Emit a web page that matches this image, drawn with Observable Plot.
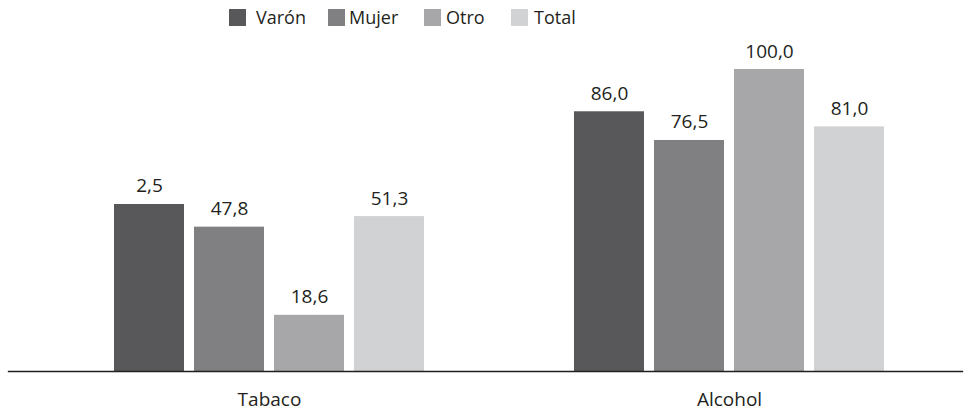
<!DOCTYPE html>
<html><head><meta charset="utf-8">
<script src="https://cdn.jsdelivr.net/npm/d3@7"></script>
<script src="https://cdn.jsdelivr.net/npm/@observablehq/plot@0.6"></script>
<style>
body{margin:0;background:#fff;font-family:"Open Sans",sans-serif;}
#legend{height:34px;position:relative;}
.sw{position:absolute;top:9px;width:17px;height:17px;}
.lt{position:absolute;top:4px;font-size:18px;line-height:26px;color:#231f20;}
</style></head><body>
<div id="legend"></div>
<div id="chart"></div>
<script>
const categories = ["Tabaco", "Alcohol"];
const series = ["Varón", "Mujer", "Otro", "Total"];
const colors = ["#58585a", "#808083", "#a7a7aa", "#d1d2d4"];
const tabacoValues = [55.3, 47.8, 18.6, 51.3];
const alcoholValues = [86.0, 76.5, 100.0, 81.0];
const tabacoLabels = ["2,5", "47,8", "18,6", "51,3"];
const alcoholLabels = ["86,0", "76,5", "100,0", "81,0"];

// legend layout (pixels)
const legendSwatchX = [229, 328, 424, 511];
const legendTextX = [256, 349, 446, 534];

const rows = [];
series.forEach((s, i) => {
  rows.push({cat: categories[0], serie: s, value: tabacoValues[i], label: tabacoLabels[i]});
  rows.push({cat: categories[1], serie: s, value: alcoholValues[i], label: alcoholLabels[i]});
});

const legend = d3.select("#legend");
series.forEach((s, i) => {
  legend.append("div").attr("class", "sw").style("left", legendSwatchX[i] + "px").style("background", colors[i]);
  legend.append("span").attr("class", "lt").style("left", legendTextX[i] + "px").text(s);
});

const font = "Open Sans, sans-serif";
const plot = Plot.plot({
  width: 964,
  height: 379,
  marginTop: 35,
  marginBottom: 42,
  marginLeft: 8,
  marginRight: 4,
  style: {fontFamily: font, fontSize: "19px", color: "#231f20"},
  fx: {domain: categories, paddingInner: 0.1304, paddingOuter: 0.1, align: 0.663, round: false, label: null},
  x: {domain: series, paddingInner: 0.125, paddingOuter: 0.5625, round: false, axis: null},
  y: {domain: [0, 100], axis: null},
  color: {domain: series, range: colors},
  marks: [
    Plot.barY(rows, {fx: "cat", x: "serie", y: "value", fill: "serie"}),
    Plot.text(rows, {fx: "cat", x: "serie", y: "value", text: "label", lineAnchor: "bottom", dy: -12, fill: "#231f20", fontSize: 19}),
    Plot.frame({anchor: "bottom", facet: "super", stroke: "#231f20", strokeWidth: 1.3, insetLeft: -61, insetRight: -33}),
    Plot.axisFx({anchor: "bottom", tickSize: 0, tickPadding: 21, fontSize: 19, label: null, fill: "#231f20"})
  ]
});
document.getElementById("chart").appendChild(plot);
</script>
</body></html>
